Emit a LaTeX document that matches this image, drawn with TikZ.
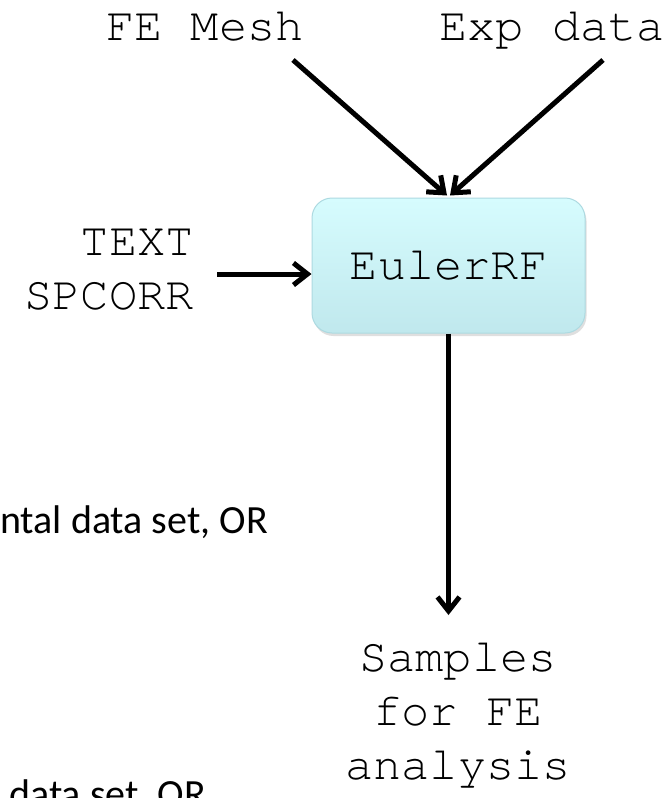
\documentclass[tikz,border=0pt]{standalone}
\usepackage{fontspec}
\setmonofont{texgyrecursor-regular.otf}
\newfontfamily\calib{Carlito}
\usetikzlibrary{arrows.meta,shadows}
\definecolor{boxtop}{HTML}{D6FCFE}
\definecolor{boxbot}{HTML}{C0E8ED}
\definecolor{boxline}{HTML}{ADDAE1}
\tikzset{
  mono/.style={font=\fontsize{47}{54}\selectfont\ttfamily, inner sep=0pt},
  side/.style={font=\fontsize{40}{48}\selectfont\calib, inner sep=0pt},
  arr/.style={line width=5pt, -{Straight Barb[length=14pt,width=22pt]}},
  procbox/.style={rounded corners=20pt, minimum width=273pt, minimum height=135pt,
    top color=boxtop, bottom color=boxbot, draw=boxline, line width=1pt,
    drop shadow={shadow xshift=1.5pt, shadow yshift=-3pt, opacity=0.25}}
}
\begin{document}
\begin{tikzpicture}[x=1pt,y=-1pt]
\useasboundingbox (0,0) rectangle (671,798);
\fill[white] (0,0) rectangle (671,798);
\clip (0,0) rectangle (671,798);
% nodes
\node[mono, anchor=base] (fe) at (205,40) {FE Mesh};
\node[mono, anchor=base] (exp) at (552,40) {Exp data};
\node[procbox, mono] (box) at (448.5,265.5) {EulerRF};
\node[mono, align=right, anchor=north east] (tx) at (194,229) {TEXT\\SPCORR};
\node[mono, align=center, anchor=north] (smp) at (458,643) {Samples\\for FE\\analysis};
\node[side, anchor=base west] (f1) at (0,533) {ntal data set, OR};
\node[side, anchor=base west] (f2) at (9,807) {data set, OR};
% connector ends
\coordinate (feout) at (293,60);
\coordinate (expout) at (603,60);
\coordinate (txout) at (217,274);
\coordinate (smpin) at (448.5,615);
% connectors
\draw[arr] (feout) -- ([xshift=-1.5pt,yshift=2pt]box.north);
\draw[arr] (expout) -- ([xshift=1.5pt,yshift=2pt]box.north);
\draw[arr] (txout) -- (box.west |- txout);
\draw[arr] (box.south) -- (smpin);
\end{tikzpicture}
\end{document}
